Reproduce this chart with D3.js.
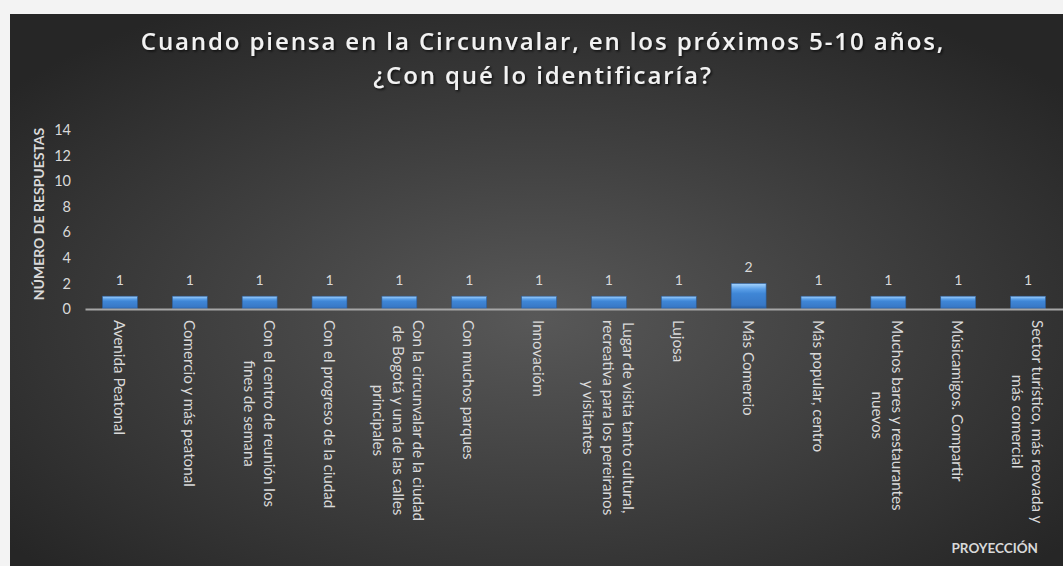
<!DOCTYPE html>
<html>
<head>
<meta charset="utf-8">
<script src="https://cdn.jsdelivr.net/npm/d3@7"></script>
<style>
  body { margin: 0; background: #f3f3f3; }
  svg { display: block; }
</style>
</head>
<body>
<script>
// tamaño del lienzo
var width = 1063;
var height = 566;

// datos
var categories = [
  "Avenida Peatonal",
  "Comercio y más peatonal",
  "Con el centro de reunión los\nfines de semana",
  "Con el progreso de la ciudad",
  "Con la circunvalar de la ciudad\nde Bogotá y una de las calles\nprincipales",
  "Con muchos parques",
  "Innovacióm",
  "Lugar de visita tanto cultural,\nrecreativa para los pereiranos\ny visitantes",
  "Lujosa",
  "Más Comercio",
  "Más popular, centro",
  "Muchos bares y restaurantes\nnuevos",
  "Músicamigos. Compartir",
  "Sector turístico, más reovada y\nmás comercial"
];
var values = [1, 1, 1, 1, 1, 1, 1, 1, 1, 2, 1, 1, 1, 1];
var yTicks = [0, 2, 4, 6, 8, 10, 12, 14];
var titleLines = ["Cuando piensa en la Circunvalar, en los próximos 5-10 años,", "¿Con qué lo identificaría?"];
var yTitle = "NÚMERO DE RESPUESTAS";
var xTitle = "PROYECCIÓN";

const chart = {left: 10, top: 14};
const textColor = "#d9d9d9";
const font = "Lato, 'Open Sans', sans-serif";

var svg = d3.select("body")
  .append("svg")
  .attr("width", width)
  .attr("height", height);

var defs = svg.append("defs");

// fondo radial gris oscuro
var bg = defs.append("radialGradient")
  .attr("id", "bg")
  .attr("cx", "50%").attr("cy", "55%").attr("r", "65%");
bg.append("stop").attr("offset", "0%").attr("stop-color", "#585858");
bg.append("stop").attr("offset", "100%").attr("stop-color", "#262626");

// relleno de las barras (bisel)
var barGrad = defs.append("linearGradient")
  .attr("id", "bar")
  .attr("x1", 0).attr("y1", 0).attr("x2", 0).attr("y2", 1);
barGrad.append("stop").attr("offset", "0%").attr("stop-color", "#a8d6ff");
barGrad.append("stop").attr("offset", "22%").attr("stop-color", "#5a9fe8");
barGrad.append("stop").attr("offset", "40%").attr("stop-color", "#3f86d6");
barGrad.append("stop").attr("offset", "85%").attr("stop-color", "#3878c6");
barGrad.append("stop").attr("offset", "100%").attr("stop-color", "#24589a");

var shadow = defs.append("filter").attr("id", "shadow")
  .attr("x", "-5%").attr("y", "-20%").attr("width", "110%").attr("height", "150%");
shadow.append("feDropShadow")
  .attr("dx", 1.5).attr("dy", 1.5).attr("stdDeviation", 1)
  .attr("flood-color", "#000").attr("flood-opacity", 0.7);

svg.append("rect")
  .attr("x", chart.left).attr("y", chart.top)
  .attr("width", width - chart.left).attr("height", height - chart.top)
  .attr("fill", "url(#bg)");

// título
svg.append("g")
  .selectAll("text")
  .data(titleLines)
  .enter()
  .append("text")
  .attr("x", 543)
  .attr("y", (d, i) => 50 + i * 34)
  .attr("text-anchor", "middle")
  .attr("fill", "#f2f2f2")
  .attr("font-family", "'Open Sans', sans-serif")
  .attr("font-weight", 600)
  .attr("font-size", 24)
  .attr("letter-spacing", 1.9)
  .attr("filter", "url(#shadow)")
  .text(d => d);

// escalas
var xScale = d3.scaleBand()
  .domain(d3.range(categories.length))
  .range([85, 1063])
  .paddingInner(0.5)
  .paddingOuter(0.25);

var yScale = d3.scaleLinear()
  .domain([0, 14])
  .range([309, 130]);

// eje y (solo etiquetas)
var yAxis = d3.axisLeft(yScale).tickValues(yTicks).tickSize(0).tickPadding(0);
var gy = svg.append("g")
  .attr("transform", "translate(71,0)")
  .call(yAxis);
gy.select(".domain").remove();
gy.selectAll("text")
  .attr("fill", textColor)
  .attr("font-family", font)
  .attr("font-size", 14.5);

// barras
svg.append("g")
  .selectAll("rect")
  .data(values)
  .enter()
  .append("rect")
  .attr("x", (d, i) => xScale(i))
  .attr("y", d => yScale(d))
  .attr("width", xScale.bandwidth())
  .attr("height", d => yScale(0) - yScale(d))
  .attr("fill", "url(#bar)")
  .attr("stroke", "#2a5d9c")
  .attr("stroke-width", 0.6);

// etiquetas de datos
svg.append("g")
  .selectAll("text")
  .data(values)
  .enter()
  .append("text")
  .attr("x", (d, i) => xScale(i) + xScale.bandwidth() / 2)
  .attr("y", d => yScale(d) - 11)
  .attr("text-anchor", "middle")
  .attr("fill", textColor)
  .attr("font-family", font)
  .attr("font-size", 14)
  .text(d => d);

// eje x
var xAxis = d3.axisBottom(xScale).tickSize(0).tickFormat("");
var gx = svg.append("g")
  .attr("transform", "translate(0," + yScale(0) + ")")
  .call(xAxis);
gx.select(".domain")
  .attr("stroke", "#a6a6a6")
  .attr("stroke-width", 2);

// etiquetas de categoría giradas 90°
var lineH = 20;
var labels = svg.append("g")
  .selectAll("g")
  .data(categories)
  .enter()
  .append("g")
  .attr("transform", (d, i) => "translate(" + (xScale(i) + xScale.bandwidth() / 2) + ",320) rotate(90)");

labels.each(function (d) {
  var lines = d.split("\n");
  var t = d3.select(this).append("text")
    .attr("fill", textColor)
    .attr("font-family", font)
    .attr("font-size", 15.2)
    .attr("text-anchor", "middle")
    .attr("dominant-baseline", "central");
  lines.forEach(function (l, k) {
    t.append("tspan")
      .attr("y", (k - (lines.length - 1) / 2) * lineH)
      .text(l);
  });
  // centrar el bloque respecto a la línea más larga
  var maxLen = d3.max(t.selectAll("tspan").nodes(), n => n.getComputedTextLength());
  t.selectAll("tspan").attr("x", maxLen / 2);
});

// títulos de ejes
svg.append("text")
  .attr("transform", "translate(38,214) rotate(-90)")
  .attr("text-anchor", "middle")
  .attr("dominant-baseline", "central")
  .attr("fill", textColor)
  .attr("font-family", font)
  .attr("font-weight", "bold")
  .attr("font-size", 14)
  .text(yTitle);

svg.append("text")
  .attr("x", 1038)
  .attr("y", 553)
  .attr("text-anchor", "end")
  .attr("fill", textColor)
  .attr("font-family", font)
  .attr("font-weight", "bold")
  .attr("font-size", 13.5)
  .text(xTitle);
</script>
</body>
</html>
